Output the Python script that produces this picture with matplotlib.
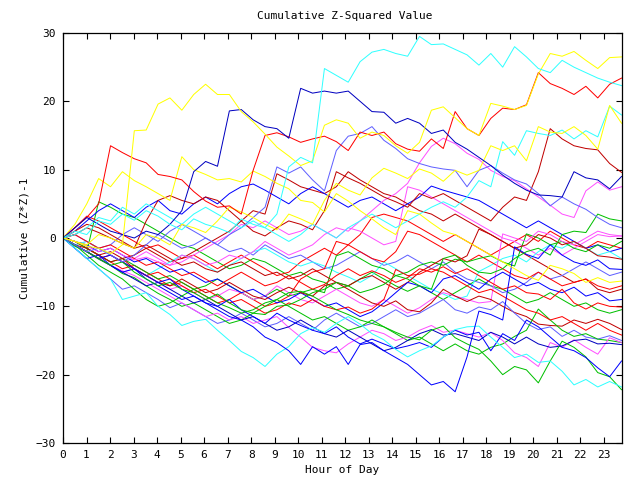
import numpy as np
import matplotlib
matplotlib.use("Agg")
import matplotlib.pyplot as plt

# half-hourly readings of each cumulative (z*z)-1 trace, hour 0 .. 23.75
yellow_1 = [0, -0.5, -1.2, -1.5, -2.3, -1, 15.7, 15.8, 19.6, 20.5, 18.7, 21, 22.5, 21, 21, 18.5,
            17, 15.2, 13.3, 12, 10.6, 11.3, 16.5, 17.3, 16.8, 14.6, 15.5, 15, 13.5, 12.4, 14, 18.7,
            19.2, 17.6, 16, 15, 19.7, 19.3, 18.8, 19.4, 24, 27, 26.6, 27.3, 26, 24.8, 26.4, 26.5]
cyan_1 = [0, 1, 0.5, 2.5, 2, 3.5, 2.6, 4, 3.2, 2, 1.2, 2.8, 2, 1.5, 0.8, 2.8,
          2, 1.5, 3.5, 10.4, 11.8, 11, 24.8, 23.8, 22.8, 25.8, 27.2, 27.6, 27, 26.6, 29.5, 28.3,
          28.4, 27.6, 26.8, 25.3, 27, 25, 28, 26.5, 24.8, 24.2, 26, 25, 24.2, 23.4, 22.8, 22.3]
red_1 = [0, 1.5, 3, 5, 13.5, 12.5, 11.6, 11, 9.3, 9, 8.5, 6.8, 5.4, 4.5, 4.7, 3.5,
         9.9, 15, 15.4, 14.8, 14, 14.5, 14.9, 14.1, 12.8, 15.5, 15, 15.5, 13.8, 13, 12.7, 14.5,
         13.1, 18.5, 16, 15, 17.5, 19, 18.8, 19.5, 24.2, 22.6, 21.9, 21, 22.2, 20.5, 22.5, 23.4]
blue_1 = [0, 1.5, 3, 2, 1, 0.5, 0, 1, 0.5, 2, 4, 9.7, 11.2, 10.5, 18.6, 18.8,
          17.3, 16.3, 16, 14.6, 21.9, 21.2, 21.5, 21.2, 21.5, 20, 18.5, 18.4, 16.8, 17.5, 16.8, 15.3,
          15.8, 14, 13, 11.8, 10.6, 9.2, 8, 7, 6.3, 6.2, 6, 9.7, 8.8, 8.5, 7.2, 9]
yellow_2 = [0, 2, 5, 8.7, 7.5, 9.7, 8.4, 7.5, 6.5, 5.5, 11.9, 10, 9.3, 8.5, 8.7, 8.2,
            9.8, 9, 8, 7.2, 5.5, 5.2, 3.8, 6.5, 5.4, 4, 2.8, 1.5, 0.5, 4, 3.5, 2.2,
            1, 0.5, -0.5, -1.5, -2.5, -3.5, -4.5, -5.5, -6.2, -4, -4.5, -5.2, -6.5, -5.8, -6.5, -6.3]
yellow_3 = [0, -0.5, -1, 0.5, 0, -0.8, -1.5, 0.5, 0, -1, 2, 1.5, 0.8, 2.5, 4.5, 3.8,
            3, 2, 1.2, 3.5, 2.8, 2, 5.5, 8, 7, 6.3, 8.8, 10.2, 9.5, 8.7, 10.1, 9.5,
            8.3, 9.9, 9.2, 9.9, 13.5, 12.8, 13.5, 11.3, 16.3, 15.5, 15.3, 16.3, 15, 13, 19.4, 16.8]
darkred_1 = [0, 0.5, 1.5, 0.8, 0, -0.8, -1.5, 2.5, 5.5, 6.2, 5.5, 5, 6, 5.5, 4, 2.5,
             1, 0.3, 1.5, 2.5, 2, 1.2, 4, 9.7, 8.8, 8, 7, 6, 5.3, 4.5, 6.5, 5.8,
             6.5, 5.5, 4.5, 3.5, 2.5, 4.5, 6, 5.5, 9.7, 16, 14.5, 13.5, 13.1, 12.9, 10.9, 9.6]
magenta_1 = [0, -0.5, -1.2, -2, -1.5, -2.5, -3.2, -2.8, -3.5, -4, -2.5, -3, -4, -3.5, -2.5, -3,
             -2, -0.5, -1.5, -2.5, -1.8, -1, 0.5, 1.5, 1, 2.5, 4, 5.5, 6.5, 8, 11, 13.4,
             14.6, 13.8, 12.4, 11.5, 9.9, 9, 8.4, 7.2, 6, 4.8, 3.5, 3, 6.9, 8.2, 7, 7.5]
green_1 = [0, -1, -2, -3, -4, -3.5, -5, -6, -7, -6.5, -7.5, -8, -9, -8.2, -9.5, -10.5,
           -11, -11.2, -10, -9.8, -9, -8, -7.5, -6.5, -7, -8, -7.5, -6.8, -5.5, -6, -7, -7.5,
           -3, -2.5, -4, -5, -5.2, -4.5, -3, -2, -1.5, -2.5, 0.5, 1, 0.8, 3.5, 2.8, 2.5]
cyan_2 = [0, -1.5, -3, -4.5, -6, -9, -8.5, -8, -10, -11.2, -12.8, -12.2, -11.9, -13.5, -15, -16.6,
          -17.5, -18.8, -17, -15.9, -14, -13.1, -13.8, -12.5, -11.5, -12.6, -14, -14.9, -16.3, -17.4, -16.5, -15.8,
          -14.5, -13.4, -13, -12.9, -14.5, -16, -17.5, -17, -18.2, -18, -19.5, -21.5, -20.7, -21.8, -21, -21.8]
blue_2 = [0, -1, -2, -3, -2.5, -3.5, -4.5, -5.5, -6.5, -6, -7.5, -8.5, -9.5, -10.5, -11.5, -12,
          -13, -14.5, -15.3, -16.5, -18.5, -15.9, -17, -15.9, -18.5, -15.6, -15.3, -16.5, -17.5, -18.5, -20, -21.5,
          -21, -22.5, -17.4, -10.7, -11.2, -12, -1.3, -2.4, -3, -1, -2.5, -3.5, -4, -3.2, -4.5, -4.6]
blue_3 = [0, -1.5, -3, -2.5, -4, -5, -4.5, -6, -7, -8, -9, -8.5, -9.5, -10, -9, -10.5,
          -11.5, -12.5, -11, -12, -12.8, -13.5, -14, -13, -14.5, -15.5, -14.8, -15.5, -16.2, -15.8, -15.3, -16,
          -14.5, -13.5, -14.2, -13.8, -16.5, -14, -15, -12, -13, -14.5, -16, -16.5, -17.5, -19, -20.3, -18]
green_2 = [0, -1, -2.5, -4, -5, -6, -7.5, -9, -10, -9.5, -8.5, -7.5, -8.5, -9.5, -10.2, -11,
           -10.5, -9.5, -9, -8, -7.8, -8.5, -9.5, -10.5, -11.2, -12, -12.5, -13, -13.8, -14.5, -14.9, -13.5,
           -12.9, -14.6, -15.5, -16.3, -18, -20, -18.8, -19.3, -21.2, -18, -15.1, -16, -17.4, -19.7, -20.3, -22.2]
darkred_2 = [0, -1, -1.5, -2.5, -3.5, -3, -4.5, -5.5, -6.5, -7, -6, -7, -8, -7.5, -6.5, -7.5,
             -8.5, -9, -8, -7.2, -8, -8.5, -7, -6.5, -7.5, -8.5, -9.5, -10, -9.2, -10.5, -10.8, -9.5,
             -7.5, -8.5, -9.3, -8.5, -9, -10, -10.9, -11.5, -12.6, -12.8, -12.9, -12, -12.5, -11.9, -12.5, -13.4]
red_2 = [0, 0.5, -0.5, -1.5, -1, -2, -3, -4, -3.5, -4.5, -5.5, -5, -6, -7, -6, -5,
         -6, -7, -6.5, -5.5, -6.5, -7.5, -6.8, -5.5, -4.5, -5.5, -4.8, -5.5, -6.5, -5.8, -4.5, -5,
         -4.2, -5.2, -4.5, -5.5, -6.5, -7.5, -7, -8, -8.2, -9, -7.5, -9.5, -10.4, -9.5, -10, -10.1]
blue_4 = [0, -0.5, -1, -2, -1.5, -2.5, -3.5, -3, -4, -5, -4.5, -5.5, -6.5, -6, -7, -8,
          -7.5, -8.5, -9.5, -9, -8, -9, -10, -9.5, -10.5, -11.5, -10.8, -9.5, -8, -6.5, -7, -8,
          -6, -5.5, -6.5, -7.5, -6, -5, -6, -7, -6.5, -7.5, -8, -7.2, -8.5, -8, -9.2, -9]
darkred_3 = [0, 1, 2, 1.5, 0.5, -0.5, -1.5, -1, -2, -3, -4, -3.5, -4.5, -5, -4, -3.5,
             -4.5, -5.5, -5, -6, -5.5, -4.5, -5.5, -6.5, -7, -6, -5.5, -6.5, -7.5, -6.5, -5, -4,
             -3, -3.5, -2.6, 1.3, 0.5, -0.5, -1.5, -1, 0.5, 0, -1, -0.5, -1.5, -2.6, -2.8, -3.1]
magenta_2 = [0, -1, -2, -3, -4, -5, -4.5, -5.5, -6.5, -7.5, -7, -8, -9, -8.5, -7.5, -8,
             -9, -8.5, -7, -8, -9, -9.5, -8.5, -7.5, -8.5, -9.5, -10, -9, -10, -11, -10.2, -9,
             -8, -8.5, -9, -9.5, -9.3, 0.6, 0, -0.5, 1, 0.5, -0.5, -1, 0, 1, 0.5, 0.3]
slate_1 = [0, -1, -2, -1.5, -2.5, -3.5, -2.5, -1, 0.5, -0.5, -1.5, -1, 0, -1, 0.5, 1.5,
           3, 4.5, 10.4, 9.5, 10.4, 8.5, 6.9, 12.8, 14.9, 15.3, 16.3, 14.3, 13.1, 11.6, 10.9, 10.4,
           10.1, 9.9, 7.5, 9.9, 10.6, 9.5, 8.5, 7.9, 6.5, 4.7, 6, 5, 4.2, 3, 2, 1.5]
blue_5 = [0, 1, 2.5, 4, 5, 4, 3, 4.5, 5.5, 4, 3.5, 5, 6, 5, 6.5, 7.5,
          7.9, 7, 6, 5, 6.5, 7.5, 6.5, 5.5, 4.5, 5.5, 6, 5, 4, 5, 6, 7.6,
          7, 6.5, 6, 5.5, 4.5, 3.5, 2.5, 1.5, 2.5, 1.5, 0.5, -0.5, -1.5, -1, -2, -1.5]
cyan_3 = [0, 0.5, 1.5, 3, 2.5, 4.5, 3.5, 5, 4, 3, 2, 3.5, 4.5, 3.5, 2.5, 1.5,
          2.5, 1.5, 0.5, -0.5, 0.5, 2, 1, 0, 1.5, 2.5, 3.5, 2.5, 1.5, 2.5, 3.5, 4.5,
          5.3, 4.5, 6, 8.4, 7.5, 14.1, 12.1, 15.7, 15.3, 15, 15.8, 14.5, 15.7, 14.8, 19.3, 18]
red_3 = [0, -1, -2, -3, -2.5, -3.5, -4.5, -5.5, -5, -6, -7, -8, -7.5, -8.5, -9.5, -9,
         -10, -11, -10.5, -9.5, -10, -9, -10, -10.5, -10.1, -11, -10.4, -9, -4.6, -5.5, -5.3, -4.5,
         -5, -6, -7, -8, -7.5, -8.5, -9.5, -10.5, -11, -12, -11.5, -12.5, -13.5, -12.5, -13.5, -14.2]
magenta_3 = [0, -1, -2, -3, -4, -4.8, -5.5, -6.5, -7.5, -8.5, -9.5, -10.5, -11.5, -11, -12, -11.5,
             -12.5, -12, -11.5, -13.1, -14.5, -16, -16.5, -16.8, -15.5, -14.5, -13.5, -14, -15, -14.5, -13.5, -12.8,
             -13.8, -13.5, -14, -14.5, -13.8, -15, -16.8, -17.5, -18.8, -15.3, -16, -14.9, -16, -17, -14.6, -15.3]
slate_2 = [0, -1.5, -3, -4.5, -6, -7.5, -7, -8, -9, -10.2, -9.5, -10.5, -11.5, -12.5, -12, -11,
           -12, -13, -12.5, -11.5, -12.5, -13.5, -12, -11, -12, -13, -12.5, -11.5, -10.5, -11.5, -11, -10,
           -9, -10.5, -11, -10.1, -10.5, -9.3, -11, -12.5, -13.4, -13, -14.4, -13.5, -14.5, -14.8, -14.3, -15]
slate_3 = [0, 0.5, -0.5, -1.5, -1, 0.5, 1.5, 0.5, -0.5, 1, 2, 1, 0, -1, -2, -1.5,
           -2.5, -1, -2, -3, -2.5, -3.5, -4.5, -4, -3, -2, -3, -4, -3.5, -2.5, -3.5, -4.5,
           -3.5, -5, -6, -6.5, -7, -8, -7.5, -6.5, -5, -6, -5.5, -4.5, -3.5, -4.5, -5.5, -5]
green_3 = [0, -1, -2, 5.3, 4.5, 3.5, 3, 2, 1, 0, -1, -1.5, -2.5, -3.5, -4.5, -4,
           -3, -3.5, -4.5, -5.5, -5, -6, -6.5, -7.5, -7, -6, -5, -6, -7, -7.8, -7, -8,
           -9, -8, -7, -6, -7, -7.5, -8.5, -9.5, -9, -8, -9, -10, -9.5, -10.5, -11, -10.5]
green_4 = [0, -0.5, -1.5, -2.5, -3.5, -3, -4, -5, -6, -5.5, -6.5, -7.5, -7, -6, -7, -8,
           -9, -8.5, -7.5, -8.5, -8, -7.5, -8, -2.6, -2, -3, -4, -4.5, -5.5, -5, -4, -3.5,
           -4, -3.1, -3.5, -3, -2.6, -3.5, -4.1, 0.6, 0, -1, -0.5, -1.5, -2, -1, -1.5, -0.5]
red_4 = [0, -0.5, -1.5, -2.5, -3.5, -4.5, -4, -5, -6, -7, -6.5, -7.5, -8.5, -9.5, -9, -8,
         -9, -10, -9.5, -8.5, -6, -5, -4.5, -0.5, -1, -2, -3, -3.5, -2, 1, 0.5, -0.5,
         -1.5, -2.5, -3.5, -2.5, -3.5, -4.5, -5.5, -6, -5, -6, -7, -6.5, -6, -7, -7.5, -7]
cyan_4 = [0, -1, -0.5, -1.5, -2.5, -3.5, -4.5, -5.5, -4.5, -3.5, -2.5, -3, -4, -5, -4, -3,
          -2, -1.5, -2.5, -3.5, -4.1, -3.5, -4.1, -5, -5.7, -6.5, -5.5, -3.5, -4.5, -5.5, -6.5, -7.5,
          -8.2, -9, -8.5, -4.9, -4, -3, -2.5, -3.5, -2, -1, -1.5, -0.5, -1.5, -2.5, -2, -3]
magenta_4 = [0, -1, -0.5, -1.5, -2.5, -3.5, -3, -2, -3, -4, -3.5, -2.5, -1.5, -0.5, 0.5, 2,
             1.5, 2.5, 1.5, 0.5, 1, 2, 1, 0, 1.5, 1, 0, -1, -0.5, 7.5, 7, 6,
             5, 4, 3, 2, 1, 0, -0.5, -1.5, -2.5, -1.5, -2.5, -1.5, -0.5, 0.5, 0.2, 0.3]
red_5 = [0, 1.5, 3.2, 2.5, 1.5, 0.5, -0.5, -1.5, -1, -2, -3, -2.5, -3.5, -4.5, -3.5, -2.5,
         -3.5, -4.5, -5.5, -5, -3.5, -2.5, -1.5, -2.5, -1, 0.5, 3, 3.5, 3, 2.5, 1.5, 0.5,
         -0.5, 0.5, -0.5, -1.5, -2.5, -1.5, -0.5, 0.5, -0.5, 1, 0, -1, -1.5, -0.5, -1, -1.5]
darkblue_1 = [0, -1, -2, -3, -4, -5, -6, -7, -6.5, -7.5, -8.5, -9.5, -9, -10, -11, -12,
              -11.5, -12.5, -13.5, -13, -12, -13, -14, -14.5, -13.5, -14.5, -15.5, -16.5, -16, -15, -14, -13.4,
              -14.2, -14, -14.5, -15, -13.8, -14.5, -15.5, -14.5, -15.5, -16, -15.8, -15, -14.8, -15.5, -15.4, -15.6]
darkred_4 = [0, -0.5, -1.5, -2.5, -2, -3, -2.5, -1.5, -2.5, -3.5, -3, -2, -1, 0, 1, 2.5,
             4, 3.5, 9.4, 8.5, 7.5, 7, 6.5, 7.5, 9.7, 8.5, 7.5, 6.5, 6, 5, 4, 3.5,
             2.5, 3.5, 2.5, 1.5, 0.5, -0.5, -1.5, -2.5, -3.5, -4.5, -5.5, -6.5, -6, -7.5, -8, -7.5]
green_5 = [0, -1.2, -2, -3.1, -4, -5.2, -5.8, -7, -8.1, -9, -10, -9.5, -10.5, -11.5, -12.5, -12,
           -11, -10, -9, -10, -11, -12, -11.5, -12.5, -13.5, -13, -12, -13, -14, -15, -14.5, -15.5,
           -16.5, -15.5, -16.5, -17, -16, -15.5, -14.4, -13.5, -10.4, -12, -13.5, -14.4, -14, -14.8, -15, -15.3]

RED, GREEN, BLUE, MAGENTA = "#ff0000", "#00c000", "#0000ff", "#ff50ff"
CYAN, YELLOW, DARKRED, SLATE, DARKBLUE = "#30ffff", "#ffff00", "#c00000", "#6060ff", "#0000c0"

series = [
    (green_3, GREEN), (red_5, RED), (magenta_4, MAGENTA), (darkred_4, DARKRED),
    (blue_5, BLUE), (slate_3, SLATE), (cyan_4, CYAN), (red_4, RED),
    (green_4, GREEN), (magenta_2, MAGENTA), (darkred_3, DARKRED), (blue_4, BLUE),
    (red_2, RED), (darkred_2, DARKRED), (slate_2, SLATE), (green_5, GREEN),
    (magenta_3, MAGENTA), (red_3, RED), (darkblue_1, DARKBLUE), (green_2, GREEN),
    (blue_3, BLUE), (cyan_2, CYAN), (blue_2, BLUE), (green_1, GREEN),
    (magenta_1, MAGENTA), (darkred_1, DARKRED), (slate_1, SLATE), (cyan_3, CYAN),
    (yellow_3, YELLOW), (yellow_2, YELLOW), (red_1, RED), (blue_1, DARKBLUE),
    (yellow_1, YELLOW), (cyan_1, CYAN),
]

plt.rcParams["font.family"] = ["DejaVu Sans Mono"]
plt.rcParams["font.size"] = 8

fig = plt.figure(figsize=(6.4, 4.8), dpi=100)
ax = fig.add_axes([63 / 640, 37 / 480, 559 / 640, 410 / 480])

for vals, col in series:
    hours = np.linspace(0, 23.75, len(vals))
    ax.plot(hours, vals, color=col, lw=0.72, antialiased=True)

ax.set_xlim(0, 23.77)
ax.set_ylim(-30, 30)
ax.set_xticks(range(24))
ax.set_yticks(range(-30, 31, 10))
ax.tick_params(direction="in", length=4, width=0.8, top=True, right=True,
               labelsize=8, pad=5)
for s in ax.spines.values():
    s.set_linewidth(0.9)

fig.text(0.538, 1 - 16 / 480, "Cumulative Z-Squared Value", ha="center", va="center", fontsize=8)
fig.text(0.535, 1 - 470 / 480, "Hour of Day", ha="center", va="center", fontsize=8)
fig.text(25 / 640, 1 - 238 / 480, "Cumulative (Z*Z)-1", ha="center", va="center",
         rotation=90, fontsize=8)

fig.savefig("out.png", dpi=100)
